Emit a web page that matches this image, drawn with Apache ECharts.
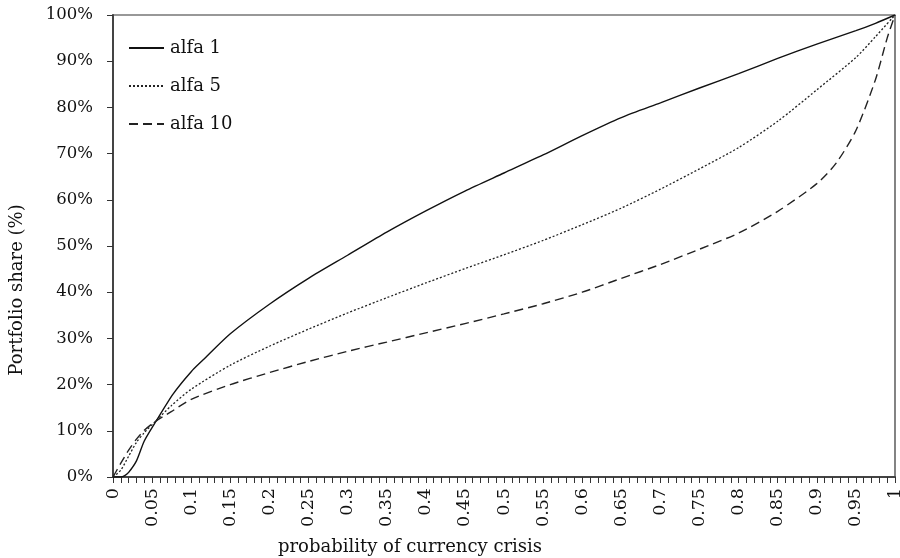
<!DOCTYPE html>
<html>
<head>
<meta charset="utf-8">
<script src="https://cdn.jsdelivr.net/npm/echarts@6/dist/echarts.min.js"></script>
<style>html,body{margin:0;padding:0;background:#fff;}#c{width:900px;height:558px;}</style>
</head>
<body>
<div id="c"></div>
<script>
var seriesNames = ['alfa 1', 'alfa 5', 'alfa 10'];
var xAlfa1 = [0, 0.01, 0.015, 0.02, 0.03, 0.04, 0.054, 0.077, 0.1, 0.115, 0.15, 0.2, 0.25, 0.3, 0.35, 0.4, 0.45, 0.5, 0.55, 0.6, 0.65, 0.7, 0.75, 0.8, 0.85, 0.9, 0.95, 0.975, 1];
var alfa1 = [0, 0, 0.3, 1, 3.5, 7.8, 11.8, 18.0, 22.8, 25.3, 31, 37.4, 43, 48, 53, 57.6, 61.9, 65.8, 69.7, 73.9, 77.8, 81, 84.2, 87.3, 90.6, 93.7, 96.6, 98.2, 100];
var xAlfa5 = [0, 0.01, 0.02, 0.03, 0.04, 0.054, 0.075, 0.1, 0.15, 0.2, 0.25, 0.3, 0.35, 0.4, 0.45, 0.5, 0.55, 0.6, 0.65, 0.7, 0.75, 0.8, 0.85, 0.9, 0.95, 0.975, 1];
var alfa5 = [0, 1.5, 4.5, 7.5, 9.6, 12.0, 15.5, 19, 24.2, 28.3, 32, 35.5, 38.8, 42, 45.1, 48.1, 51.2, 54.6, 58.2, 62.3, 66.7, 71.3, 77, 83.8, 90.8, 95.3, 100];
var xAlfa10 = [0, 0.01, 0.02, 0.03, 0.04, 0.054, 0.075, 0.1, 0.15, 0.2, 0.25, 0.3, 0.35, 0.4, 0.45, 0.5, 0.55, 0.6, 0.65, 0.7, 0.75, 0.8, 0.85, 0.9, 0.925, 0.95, 0.975, 0.99, 1];
var alfa10 = [0, 3, 5.8, 8.2, 10.1, 12.0, 14.2, 16.8, 20, 22.6, 25, 27.2, 29.2, 31.2, 33.2, 35.3, 37.5, 40, 43, 46, 49.3, 52.8, 57.5, 63.5, 68, 75, 86, 95, 100];
var yTicks = [0, 10, 20, 30, 40, 50, 60, 70, 80, 90, 100];

function pairs(xs, ys) { return xs.map(function (x, i) { return [x, ys[i]]; }); }

var font = 'DejaVu Serif';
var chart = echarts.init(document.getElementById('c'), null, { renderer: 'canvas' });
chart.setOption({
  animation: false,
  backgroundColor: '#fff',
  grid: { left: 113, right: 5, top: 15, bottom: 81, outerBoundsMode: 'none', containLabel: false, show: true, borderColor: '#333', borderWidth: 1.2, backgroundColor: 'transparent' },
  legend: {
    orient: 'vertical', left: 128, top: 38, padding: 0, itemWidth: 35, itemHeight: 14, itemGap: 18,
    data: seriesNames,
    itemStyle: { color: 'rgba(0,0,0,0)', borderWidth: 0, opacity: 0 },
    textStyle: { fontFamily: font, fontSize: 18, lineHeight: 20, color: '#111', padding: [0, 0, 0, 1] }
  },
  xAxis: {
    type: 'value', min: 0, max: 1, interval: 0.05,
    name: 'probability of currency crisis', nameLocation: 'middle', nameGap: 61,
    nameTextStyle: { fontFamily: font, fontSize: 18, color: '#111', padding: [0, 188, 0, 0] },
    axisLine: { show: true, lineStyle: { color: '#444', width: 2 } },
    axisTick: { show: true, inside: false, length: 6, lineStyle: { color: '#333', width: 1 } },
    minorTick: { show: true, splitNumber: 5, length: 6, lineStyle: { color: '#333', width: 1 } },
    axisLabel: { rotate: 90, margin: 11, fontFamily: font, fontSize: 17.5, color: '#111' },
    splitLine: { show: false }
  },
  yAxis: {
    type: 'value', min: 0, max: 100, interval: 10,
    name: 'Portfolio share (%)', nameLocation: 'middle', nameGap: 87, nameRotate: 90,
    nameTextStyle: { fontFamily: font, fontSize: 18, color: '#111', padding: [0, 88, 0, 0] },
    axisLine: { show: true, lineStyle: { color: '#444', width: 2 } },
    axisTick: { show: true, inside: false, length: 6, lineStyle: { color: '#333', width: 1 } },
    axisLabel: { margin: 20, fontFamily: font, fontSize: 16.5, color: '#111', formatter: function (v) { return yTicks.indexOf(v) >= 0 ? v + '%' : ''; } },
    splitLine: { show: false }
  },
  series: [
    { name: seriesNames[0], type: 'line', data: pairs(xAlfa1, alfa1), showSymbol: false, symbol: 'none', smooth: 0.25,
      lineStyle: { color: '#111', width: 1.4, type: 'solid' }, itemStyle: { color: '#111' } },
    { name: seriesNames[1], type: 'line', data: pairs(xAlfa5, alfa5), showSymbol: false, symbol: 'none', smooth: 0.25,
      lineStyle: { color: '#222', width: 1.3, type: [2, 2] }, itemStyle: { color: '#222' } },
    { name: seriesNames[2], type: 'line', data: pairs(xAlfa10, alfa10), showSymbol: false, symbol: 'none', smooth: 0.25,
      lineStyle: { color: '#222', width: 1.4, type: [9, 5] }, itemStyle: { color: '#222' } }
  ]
});
</script>
</body>
</html>
